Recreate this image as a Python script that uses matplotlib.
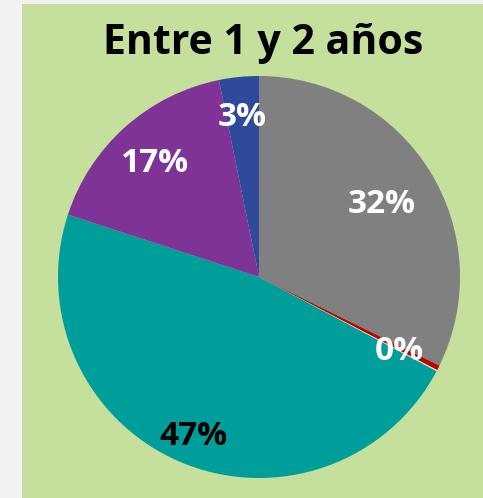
import numpy as np
import matplotlib
matplotlib.use("Agg")
import matplotlib.pyplot as plt
from matplotlib.patches import Rectangle

# datos del grafico (porcentajes)
valores = [32.3, 0.4, 0.1, 47.3, 16.8, 3.2]
etiquetas = ["32%", "0%", "", "47%", "17%", "3%"]
colores = ["#808080", "#C00000", "#E0E0E0", "#009E9A", "#7F3397", "#2F4A9B"]
color_texto = ["white", "white", "white", "black", "white", "white"]
radio_texto = [0.72, 0.78, 0.78, 0.84, 0.78, 0.82]
titulo = "Entre 1 y 2 años"

plt.rcParams['font.family'] = ['Open Sans', 'DejaVu Sans']

W, H = 483, 498
fig = plt.figure(figsize=(W / 100, H / 100), dpi=100, facecolor="#F2F2F2")

# fondo verde (debajo de los ejes)
fig.patches.append(Rectangle((22 / W, 0), 1 - 22 / W, (H - 4) / H,
                             transform=fig.transFigure, facecolor="#C5DF9C",
                             edgecolor="none", zorder=-1))

cx, cy, r = 259, H - 277, 201
ax = fig.add_axes([(cx - r) / W, (cy - r) / H, 2 * r / W, 2 * r / H])
ax.set_facecolor("none")

wedges, _ = ax.pie(valores, colors=colores, startangle=90, counterclock=False,
                   radius=1, wedgeprops=dict(linewidth=0))
ax.set_xlim(-1, 1)
ax.set_ylim(-1, 1)
ax.axis("off")

for w, txt, col, rt in zip(wedges, etiquetas, color_texto, radio_texto):
    if not txt:
        continue
    ang = np.deg2rad((w.theta1 + w.theta2) / 2)
    ax.text(rt * np.cos(ang), rt * np.sin(ang), txt, ha="center",
            va="center_baseline", fontsize=24, fontweight="bold", color=col)

fig.text(263 / W, 1 - 43 / H, titulo, ha="center", va="center",
         fontsize=29.5, fontweight="bold", color="black")

fig.savefig("out.png", dpi=100, facecolor=fig.get_facecolor())
